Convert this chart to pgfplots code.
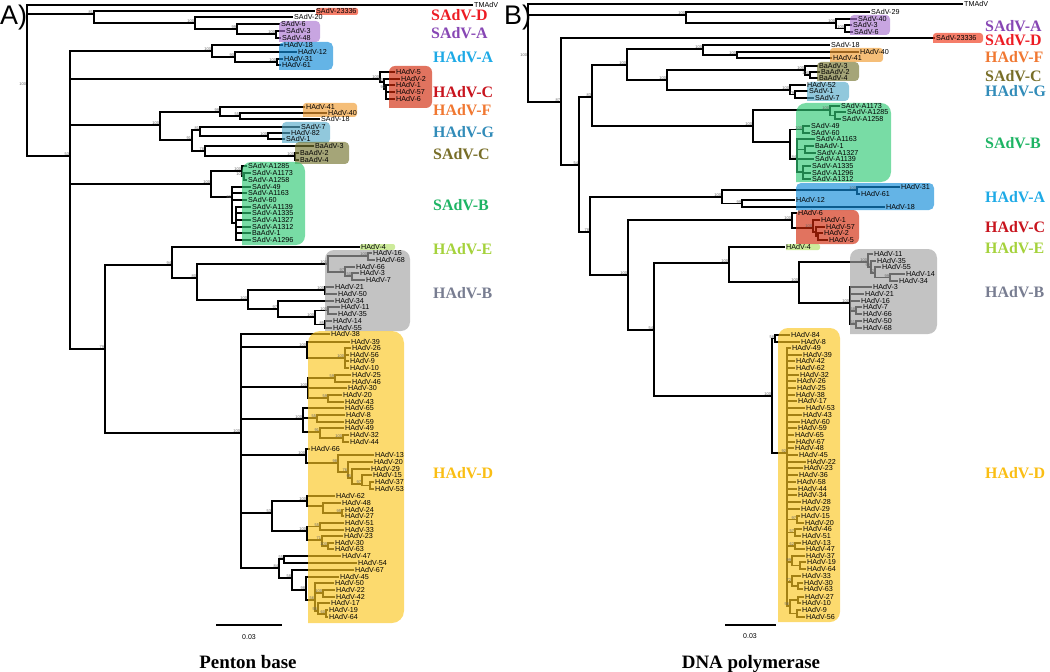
\documentclass[border=0pt]{standalone}
\usepackage{fontspec}
\setmainfont{Liberation Serif}
\newfontfamily\lsans{Liberation Sans}
\usepackage{pgfplots}
\pgfplotsset{compat=1.18}
% box base colours (drawn with fill opacity 0.65 over the tree)
\definecolor{bSD}{RGB}{240,55,24}
\definecolor{bSA}{RGB}{170,117,209}
\definecolor{bHA}{RGB}{17,140,217}
\definecolor{bHC}{RGB}{209,40,9}
\definecolor{bHF}{RGB}{240,155,47}
\definecolor{bHG}{RGB}{86,170,201}
\definecolor{bSC}{RGB}{117,117,47}
\definecolor{bSB}{RGB}{48,201,117}
\definecolor{bHE}{RGB}{178,225,101}
\definecolor{bHB}{RGB}{163,163,163}
\definecolor{bHD}{RGB}{251,198,32}
% group label colours
\definecolor{tSD}{RGB}{237,28,36}
\definecolor{tSA}{RGB}{135,70,180}
\definecolor{tHA}{RGB}{30,170,230}
\definecolor{tHC}{RGB}{200,20,30}
\definecolor{tHF}{RGB}{240,120,50}
\definecolor{tHG}{RGB}{50,140,185}
\definecolor{tSC}{RGB}{120,110,40}
\definecolor{tSB}{RGB}{30,180,100}
\definecolor{tHE}{RGB}{165,210,60}
\definecolor{tHB}{RGB}{120,125,145}
\definecolor{tHD}{RGB}{250,190,20}
\newcommand{\leaffont}{\lsans\fontsize{7.2}{7.2}\selectfont}
\newcommand{\bsfont}{\lsans\fontsize{4}{4}\selectfont}
\newcommand{\grpfont}{\bfseries\fontsize{16}{16}\selectfont}
\pgfplotsset{
  tree/.style={black, line width=1.4bp, mark=none},
  leaves/.style={draw=none, mark=none, nodes near coords, point meta=explicit symbolic,
     every node near coord/.append style={anchor=west, inner sep=1bp, font=\leaffont, text=black}},
  boots/.style={draw=none, mark=none, nodes near coords, point meta=explicit symbolic,
     every node near coord/.append style={anchor=east, inner sep=0.3bp, xshift=-0.5bp, yshift=1.8bp, font=\bsfont, text=black!60}},
  box/.style={draw=none, mark=none, fill opacity=0.65},
}
\begin{document}
\begin{tikzpicture}
\begin{axis}[
  at={(0,0)}, anchor=south west,
  width=1050bp, height=672bp, scale only axis,
  xmin=0, xmax=1050, ymin=0, ymax=672, y dir=reverse,
  hide axis, clip=false, unbounded coords=jump]

% ================= PANEL A : tree =================
\addplot[tree] coordinates {
(473,5)(27,5)(27,156)(70,156) (nan,nan) (27,14)(94,14) (nan,nan)
(315,11)(94,11)(94,23)(195,23) (nan,nan)
(293,17)(195,17)(195,29)(237,29) (nan,nan)
(280,24)(237,24)(237,34)(276,34) (nan,nan)
(285,31)(276,31)(276,38)(281,38) (nan,nan)
(212,51)(70,51)(70,349)(105,349) (nan,nan) (70,79)(380,79) (nan,nan) (70,125)(160,125) (nan,nan) (70,184)(211,184) (nan,nan)
(283,45)(212,45)(212,57)(235,57) (nan,nan)
(297,52)(235,52)(235,62)(277,62) (nan,nan)
(283,59)(277,59)(277,65)(281,65) (nan,nan)
(395,72)(380,72)(380,82)(384,82) (nan,nan)
(400,79)(384,79)(384,89)(386,89) (nan,nan)
(395,85)(386,85)(386,99)(395,99) (nan,nan) (386,92)(395,92) (nan,nan)
(220,112)(160,112)(160,140)(192,140) (nan,nan)
(305,107)(220,107)(220,116)(240,116) (nan,nan)
(327,113)(240,113)(240,119)(320,119) (nan,nan)
(200,130)(192,130)(192,151)(205,151) (nan,nan)
(300,127)(200,127)(200,136)(268,136) (nan,nan)
(290,133)(268,133)(268,139)(285,139) (nan,nan)
(314,146)(205,146)(205,156)(295,156) (nan,nan)
(299,153)(295,153)(295,160)(299,160) (nan,nan)
(242,171)(211,171)(211,197)(232,197) (nan,nan)
(247,166)(242,166)(242,176)(244,176) (nan,nan)
(251,173)(244,173)(244,180)(247,180) (nan,nan)
(251,187)(232,187)(232,223)(236,223) (nan,nan) (232,193)(247,193) (nan,nan) (232,200)(247,200) (nan,nan)
(251,207)(236,207)(236,240)(251,240) (nan,nan) (236,213)(251,213) (nan,nan) (236,220)(251,220) (nan,nan) (236,227)(251,227) (nan,nan) (236,233)(251,233) (nan,nan)
(172,265)(105,265)(105,433)(241,433) (nan,nan)
(360,247)(172,247)(172,278)(197,278) (nan,nan)
(328,264)(197,264)(197,300)(248,300) (nan,nan)
(368,256)(328,256)(328,272)(345,272) (nan,nan)
(372,253)(368,253)(368,260)(375,260) (nan,nan)
(355,267)(345,267)(345,276)(352,276) (nan,nan)
(359,273)(352,273)(352,280)(365,280) (nan,nan)
(325,290)(248,290)(248,309)(278,309) (nan,nan)
(334,287)(325,287)(325,294)(337,294) (nan,nan)
(334,301)(278,301)(278,317)(315,317) (nan,nan)
(328,310.5)(315,310.5)(315,324.5)(325,324.5) (nan,nan)
(340,307)(328,307)(328,314)(337,314) (nan,nan)
(332,321)(325,321)(325,328)(332,328) (nan,nan)
(330,334)(241,334)(241,568)(279,568) (nan,nan) (241,347)(307,347) (nan,nan) (241,387)(308,387) (nan,nan) (241,419)(303,419) (nan,nan) (241,455)(306,455) (nan,nan) (241,513)(272,513) (nan,nan)
(350,342)(307,342)(307,358)(345,358) (nan,nan)
(351,348)(345,348)(345,368)(349,368) (nan,nan) (345,355)(349,355) (nan,nan) (345,361)(349,361) (nan,nan)
(335,378)(308,378)(308,398)(328,398) (nan,nan) (308,388)(347,388) (nan,nan)
(351,375)(335,375)(335,382)(351,382) (nan,nan)
(342,395)(328,395)(328,402)(344,402) (nan,nan)
(344,408)(303,408)(303,432)(320,432) (nan,nan) (303,418)(317,418) (nan,nan)
(345,415)(317,415)(317,422)(344,422) (nan,nan)
(344,428)(320,428)(320,438)(343,438) (nan,nan)
(349,435)(343,435)(343,442)(349,442) (nan,nan)
(310,449)(306,449)(306,463)(338,463) (nan,nan)
(374,455)(338,455)(338,472)(348,472) (nan,nan)
(373,462)(348,462)(348,478)(352,478) (nan,nan)
(370,469)(352,469)(352,484)(362,484) (nan,nan)
(372,475)(362,475)(362,485.5)(370,485.5) (nan,nan)
(374,482)(370,482)(370,489)(374,489) (nan,nan)
(307,501)(272,501)(272,531)(307,531) (nan,nan)
(335,496)(307,496)(307,506)(323,506) (nan,nan)
(341,503)(323,503)(323,513)(342,513) (nan,nan)
(344,509.5)(342,509.5)(342,516)(344,516) (nan,nan)
(320,526.5)(307,526.5)(307,540)(322,540) (nan,nan)
(344,523)(320,523)(320,530)(344,530) (nan,nan)
(343,536)(322,536)(322,546)(328,546) (nan,nan)
(334,543)(328,543)(328,549)(334,549) (nan,nan)
(284,559)(279,559)(279,578)(292,578) (nan,nan)
(341,556)(284,556)(284,563)(357,563) (nan,nan)
(354,570)(292,570)(292,590)(306,590) (nan,nan)
(339,577)(306,577)(306,600)(315,600) (nan,nan)
(334,583)(315,583)(315,611)(318,611) (nan,nan) (315,593)(323,593) (nan,nan)
(335,590)(323,590)(323,597)(335,597) (nan,nan)
(330,603)(318,603)(318,614)(326,614) (nan,nan)
(328,610)(326,610)(326,617)(328,617)
};

\addplot[leaves] table[meta=l] {
x y l
473 5 TMAdV
315 11 SAdV-23336
293 17 SAdV-20
280 24 SAdV-6
285 31 SAdV-3
281 38 SAdV-48
283 45 HAdV-18
297 52 HAdV-12
283 59 HAdV-31
281 65 HAdV-61
395 72 HAdV-5
400 79 HAdV-2
395 85 HAdV-1
395 92 HAdV-57
395 99 HAdV-6
305 107 HAdV-41
327 113 HAdV-40
320 119 SAdV-18
300 127 SAdV-7
290 133 HAdV-82
285 139 SAdV-1
314 146 BaAdV-3
299 153 BaAdV-2
299 160 BaAdV-4
247 166 SAdV-A1285
251 173 SAdV-A1173
247 180 SAdV-A1258
251 187 SAdV-49
247 193 SAdV-A1163
247 200 SAdV-60
251 207 SAdV-A1139
251 213 SAdV-A1335
251 220 SAdV-A1327
251 227 SAdV-A1312
251 233 BaAdV-1
251 240 SAdV-A1296
360 247 HAdV-4
372 253 HAdV-16
375 260 HAdV-68
355 267 HAdV-66
359 273 HAdV-3
365 280 HAdV-7
334 287 HAdV-21
337 294 HAdV-50
334 301 HAdV-34
340 307 HAdV-11
337 314 HAdV-35
332 321 HAdV-14
332 328 HAdV-55
330 334 HAdV-38
350 342 HAdV-39
351 348 HAdV-26
349 355 HAdV-56
349 361 HAdV-9
349 368 HAdV-10
351 375 HAdV-25
351 382 HAdV-46
347 388 HAdV-30
342 395 HAdV-20
344 402 HAdV-43
344 408 HAdV-65
345 415 HAdV-8
344 422 HAdV-59
344 428 HAdV-49
349 435 HAdV-32
349 442 HAdV-44
310 449 HAdV-66
374 455 HAdV-13
373 462 HAdV-20
370 469 HAdV-29
372 475 HAdV-15
374 482 HAdV-37
374 489 HAdV-53
335 496 HAdV-62
341 503 HAdV-48
344 509.5 HAdV-24
344 516 HAdV-27
344 523 HAdV-51
344 530 HAdV-33
343 536 HAdV-23
334 543 HAdV-30
334 549 HAdV-63
341 556 HAdV-47
357 563 HAdV-54
354 570 HAdV-67
339 577 HAdV-45
334 583 HAdV-50
335 590 HAdV-22
335 597 HAdV-42
330 603 HAdV-17
328 610 HAdV-19
328 617 HAdV-64
};

\addplot[boots] table[meta=l] {
x y l
27 86 100
94 14 81
195 23 100
237 29 99
276 34 100
70 156 53
212 51 100
235 57 90
277 62 100
380 79 100
384 82 90
386 89 91
160 125 100
220 112 99
240 116 55
192 140 91
200 130 81
268 136 100
205 151 78
295 156 100
211 184 100
242 171 100
244 176 100
232 199 80
105 349 79
172 265 94
197 278 80
328 264 100
368 256 100
345 272 97
352 276 50
248 300 100
325 290 100
278 309 97
315 317 100
328 310.5 100
325 324.5 85
241 433 100
307 347 100
345 358 100
308 387 100
335 378 59
328 398 59
303 419 100
317 418 55
320 432 91
343 438 100
306 455 100
338 463 98
348 472 76
352 478 95
362 484 97
272 513 53
307 501 100
342 513 95
307 531 100
320 526.5 55
322 540 71
328 546 100
279 568 84
284 559 55
292 578 58
306 590 98
315 600 56
323 593 100
318 611 55
326 614 60
};

% boxes panel A
\addplot[box, fill=bSD, rounded corners=2bp] coordinates {(316,11.5)(316,8)(358,8)(358,15)(316,15)};
\addplot[box, fill=bSA, rounded corners=4bp] coordinates {(279,31)(279,21)(320,21)(320,42)(279,42)};
\addplot[box, fill=bHA, rounded corners=5bp] coordinates {(279,56)(279,42)(333,42)(333,70)(279,70)};
\addplot[box, fill=bHC, rounded corners=6bp] coordinates {(389,87)(389,66)(432,66)(432,108)(389,108)};
\addplot[box, fill=bHF, rounded corners=3bp] coordinates {(303,110)(303,103)(357,103)(357,117)(303,117)};
\addplot[box, fill=bHG, rounded corners=4bp] coordinates {(282,132)(282,122)(330,122)(330,143)(282,143)};
\addplot[box, fill=bSC, rounded corners=4bp] coordinates {(295,153)(295,142)(349,142)(349,164)(295,164)};
\addplot[box, fill=bSB, rounded corners=9bp] coordinates {(242,203)(242,162)(305,162)(305,245)(242,245)};
\addplot[box, fill=bHE, rounded corners=2bp] coordinates {(360,247)(360,244)(395,244)(395,250)(360,250)};
\addplot[box, fill=bHB, rounded corners=9bp] coordinates {(325,290)(325,250)(410,250)(410,331)(325,331)};
\addplot[box, fill=bHD, rounded corners=12bp] coordinates {(308,477)(308,331)(404,331)(404,623)(308,623)};

% scale bar A
\addplot[black, line width=2bp, mark=none] coordinates {(216,625)(282,625)};

% ================= PANEL B : tree =================
\addplot[tree] coordinates {
(963,4)(528,4)(528,102)(561,102) (nan,nan) (528,15)(686,15) (nan,nan)
(870,12)(686,12)(686,23)(836,23) (nan,nan)
(857,19)(836,19)(836,28.5)(845,28.5) (nan,nan)
(852,25)(845,25)(845,32)(853,32) (nan,nan)
(935,38)(561,38)(561,165)(579,165) (nan,nan)
(592,97)(579,97)(579,232)(590,232) (nan,nan)
(627,65)(592,65)(592,126)(753,126) (nan,nan)
(703,49)(627,49)(627,80)(667,80) (nan,nan)
(830,45)(703,45)(703,55)(737,55) (nan,nan)
(859,52)(737,52)(737,58)(832,58) (nan,nan)
(805,70)(667,70)(667,90)(790,90) (nan,nan)
(818,66)(805,66)(805,75)(810,75) (nan,nan)
(820,72)(810,72)(810,78)(818,78) (nan,nan)
(806,85)(790,85)(790,94.5)(795,94.5) (nan,nan)
(808,91)(795,91)(795,98)(814,98) (nan,nan)
(830,110)(753,110)(753,142)(790,142) (nan,nan)
(840,106)(830,106)(830,115.5)(835,115.5) (nan,nan)
(846,112)(835,112)(835,119)(841,119) (nan,nan)
(803,129.5)(790,129.5)(790,159)(797,159) (nan,nan)
(810,126)(803,126)(803,133)(810,133) (nan,nan)
(815,139)(797,139)(797,172)(803,172) (nan,nan) (797,149.5)(805,149.5) (nan,nan) (797,159)(814,159) (nan,nan)
(814,146)(805,146)(805,153)(816,153) (nan,nan)
(811,166)(803,166)(803,179)(811,179) (nan,nan) (803,173)(811,173) (nan,nan)
(722,197)(590,197)(590,275)(628,275) (nan,nan)
(857,190)(722,190)(722,203.5)(742,203.5) (nan,nan)
(900,187)(857,187)(857,194)(860,194) (nan,nan)
(795,200)(742,200)(742,207)(885,207) (nan,nan)
(792,220)(628,220)(628,330)(654,330) (nan,nan)
(797,213)(792,213)(792,228)(813,228) (nan,nan)
(820,220)(813,220)(813,232)(816,232) (nan,nan)
(825,227)(816,227)(816,236.5)(818,236.5) (nan,nan)
(823,233)(818,233)(818,240)(828,240) (nan,nan)
(729,263)(654,263)(654,396)(772,396) (nan,nan)
(785,247)(729,247)(729,282)(799,282) (nan,nan)
(868,262)(799,262)(799,303)(850,303) (nan,nan)
(873,254)(868,254)(868,267)(871,267) (nan,nan)
(876,261)(871,261)(871,273)(875,273) (nan,nan)
(881,267)(875,267)(875,277.5)(890,277.5) (nan,nan)
(905,274)(890,274)(890,281)(898,281) (nan,nan)
(872,287)(850,287)(850,324)(856,324) (nan,nan) (850,294)(864,294) (nan,nan) (850,301)(860,301) (nan,nan) (850,311)(856,311) (nan,nan)
(862,307)(856,307)(856,314)(862,314) (nan,nan)
(862,321)(856,321)(856,328)(862,328) (nan,nan)
(775,338.5)(772,338.5)(772,453)(787,453) (nan,nan)
(790,335)(775,335)(775,342)(800,342) (nan,nan)
(791,348)(787,348)(787,606)(790,606) (nan,nan)
(787,355)(802,355) (nan,nan) (787,361)(795,361) (nan,nan) (787,368)(795,368) (nan,nan)
(787,375)(799,375) (nan,nan) (787,381)(796,381) (nan,nan) (787,388)(796,388) (nan,nan)
(787,395)(795,395) (nan,nan) (787,401)(797,401) (nan,nan) (787,408)(805,408) (nan,nan)
(787,415)(802,415) (nan,nan) (787,422)(800,422) (nan,nan) (787,428)(797,428) (nan,nan)
(787,435)(794,435) (nan,nan) (787,442)(795,442) (nan,nan) (787,448)(794,448) (nan,nan)
(787,455)(798,455) (nan,nan) (787,462)(806,462) (nan,nan) (787,468)(803,468) (nan,nan)
(787,475)(798,475) (nan,nan) (787,482)(796,482) (nan,nan) (787,489)(797,489) (nan,nan)
(787,495)(797,495) (nan,nan) (787,502)(801,502) (nan,nan) (787,509)(800,509) (nan,nan)
(787,519.5)(797,519.5) (nan,nan) (787,532.5)(795,532.5) (nan,nan) (787,546)(795,546) (nan,nan)
(787,562)(792,562) (nan,nan) (787,582)(792,582) (nan,nan)
(800,516)(797,516)(797,523)(804,523) (nan,nan)
(802,529)(795,529)(795,536)(801,536) (nan,nan)
(801,543)(795,543)(795,549)(805,549) (nan,nan)
(805,556)(792,556)(792,565.5)(800,565.5) (nan,nan)
(806,562)(800,562)(800,569)(806,569) (nan,nan)
(801,576)(792,576)(792,586)(798,586) (nan,nan)
(803,583)(798,583)(798,589)(803,589) (nan,nan)
(798,600)(790,600)(790,613.5)(797,613.5) (nan,nan)
(804,597)(798,597)(798,603)(801,603) (nan,nan)
(801,610)(797,610)(797,617)(805,617)
};

\addplot[leaves] table[meta=l] {
x y l
963 4 TMAdV
870 12 SAdV-29
857 19 SAdV-40
852 25 SAdV-3
853 32 SAdV-6
935 38 SAdV-23336
830 45 SAdV-18
859 52 HAdV-40
832 58 HAdV-41
818 66 BaAdV-3
820 72 BaAdV-2
818 78 BaAdV-4
806 85 HAdV-52
808 91 SAdV-1
814 98 SAdV-7
840 106 SAdV-A1173
846 112 SAdV-A1285
841 119 SAdV-A1258
810 126 SAdV-49
810 133 SAdV-60
815 139 SAdV-A1163
814 146 BaAdV-1
816 153 SAdV-A1327
814 159 SAdV-A1139
811 166 SAdV-A1335
811 173 SAdV-A1296
811 179 SAdV-A1312
900 187 HAdV-31
860 194 HAdV-61
795 200 HAdV-12
885 207 HAdV-18
797 213 HAdV-6
820 220 HAdV-1
825 227 HAdV-57
823 233 HAdV-2
828 240 HAdV-5
785 247 HAdV-4
873 254 HAdV-11
876 261 HAdV-35
881 267 HAdV-55
905 274 HAdV-14
898 281 HAdV-34
872 287 HAdV-3
864 294 HAdV-21
860 301 HAdV-16
862 307 HAdV-7
862 314 HAdV-66
862 321 HAdV-50
862 328 HAdV-68
790 335 HAdV-84
800 342 HAdV-8
791 348 HAdV-49
802 355 HAdV-39
795 361 HAdV-42
795 368 HAdV-62
799 375 HAdV-32
796 381 HAdV-26
796 388 HAdV-25
795 395 HAdV-38
797 401 HAdV-17
805 408 HAdV-53
802 415 HAdV-43
800 422 HAdV-60
797 428 HAdV-59
794 435 HAdV-65
795 442 HAdV-67
794 448 HAdV-48
798 455 HAdV-45
806 462 HAdV-22
803 468 HAdV-23
798 475 HAdV-36
796 482 HAdV-58
797 489 HAdV-44
797 495 HAdV-34
801 502 HAdV-28
800 509 HAdV-29
800 516 HAdV-15
804 523 HAdV-20
802 529 HAdV-46
801 536 HAdV-51
801 543 HAdV-13
805 549 HAdV-47
805 556 HAdV-37
806 562 HAdV-19
806 569 HAdV-64
801 576 HAdV-33
803 583 HAdV-30
803 589 HAdV-63
804 597 HAdV-27
801 603 HAdV-10
801 610 HAdV-9
805 617 HAdV-56
};

\addplot[boots] table[meta=l] {
x y l
528 57 100
686 15 100
836 23 100
845 28.5 100
561 102 87
579 165 54
592 97 83
627 65 100
703 49 100
737 55 100
667 80 100
805 70 100
810 75 100
790 90 100
795 94.5 79
753 126 100
830 110 100
803 129.5 100
797 159 84
590 232 78
722 197 100
857 190 100
742 203.5 99
628 275 100
792 220 100
813 228 100
654 330 54
729 263 100
799 282 100
868 262 100
871 267 99
875 273 72
890 277.5 99
850 303 100
856 311 58
856 324 51
772 396 100
775 338.5 58
787 453 92
797 519.5 97
795 532.5 57
795 546 62
792 562 99
792 582 72
790 606 56
};

% boxes panel B
\addplot[box, fill=bSA, rounded corners=4bp] coordinates {(850,25)(850,15)(890,15)(890,35)(850,35)};
\addplot[box, fill=bSD, rounded corners=3bp] coordinates {(933,38)(933,33)(983,33)(983,43)(933,43)};
\addplot[box, fill=bHF, rounded corners=3bp] coordinates {(830,55)(830,48)(883,48)(883,62)(830,62)};
\addplot[box, fill=bSC, rounded corners=4bp] coordinates {(817,71)(817,62)(859,62)(859,81)(817,81)};
\addplot[box, fill=bHG, rounded corners=4bp] coordinates {(807,91)(807,82)(849,82)(849,101)(807,101)};
\addplot[box, fill=bSB, rounded corners=10bp] coordinates {(796,142)(796,103)(891,103)(891,182)(796,182)};
\addplot[box, fill=bHA, rounded corners=5bp] coordinates {(796,196)(796,183)(934,183)(934,210)(796,210)};
\addplot[box, fill=bHC, rounded corners=6bp] coordinates {(796,227)(796,210)(859,210)(859,244)(796,244)};
\addplot[box, fill=bHE, rounded corners=2bp] coordinates {(786,247)(786,244)(820,244)(820,250)(786,250)};
\addplot[box, fill=bHB, rounded corners=9bp] coordinates {(850,291)(850,249)(937,249)(937,334)(850,334)};
\addplot[box, fill=bHD, rounded corners=10bp] coordinates {(778,475)(778,328)(840,328)(840,622)(778,622)};

% scale bar B
\addplot[black, line width=2bp, mark=none] coordinates {(725,625)(776,625)};

% ================= texts =================
\node[anchor=base west, inner sep=0, font=\lsans\fontsize{27}{27}\selectfont] at (axis cs:0,25) {A)};
\node[anchor=base west, inner sep=0, font=\lsans\fontsize{27}{27}\selectfont] at (axis cs:504,25) {B)};

\node[font=\lsans\fontsize{7}{7}\selectfont] at (axis cs:249,637) {0.03};
\node[font=\lsans\fontsize{7}{7}\selectfont] at (axis cs:750,636) {0.03};
\node[anchor=base, inner sep=0, font=\bfseries\fontsize{19}{19}\selectfont] at (axis cs:248,668) {Penton base};
\node[anchor=base, inner sep=0, font=\bfseries\fontsize{19}{19}\selectfont] at (axis cs:751,668) {DNA polymerase};

% group labels panel A
\node[anchor=west, inner sep=0, font=\grpfont, text=tSD] at (axis cs:431,15) {SAdV-D};
\node[anchor=west, inner sep=0, font=\grpfont, text=tSA] at (axis cs:431,33) {SAdV-A};
\node[anchor=west, inner sep=0, font=\grpfont, text=tHA] at (axis cs:433,57) {HAdV-A};
\node[anchor=west, inner sep=0, font=\grpfont, text=tHC] at (axis cs:433,92) {HAdV-C};
\node[anchor=west, inner sep=0, font=\grpfont, text=tHF] at (axis cs:433,110) {HAdV-F};
\node[anchor=west, inner sep=0, font=\grpfont, text=tHG] at (axis cs:433,132) {HAdV-G};
\node[anchor=west, inner sep=0, font=\grpfont, text=tSC] at (axis cs:433,154) {SAdV-C};
\node[anchor=west, inner sep=0, font=\grpfont, text=tSB] at (axis cs:433,205) {SAdV-B};
\node[anchor=west, inner sep=0, font=\grpfont, text=tHE] at (axis cs:433,249) {HAdV-E};
\node[anchor=west, inner sep=0, font=\grpfont, text=tHB] at (axis cs:433,293) {HAdV-B};
\node[anchor=west, inner sep=0, font=\grpfont, text=tHD] at (axis cs:433,473) {HAdV-D};

% group labels panel B
\node[anchor=west, inner sep=0, font=\grpfont, text=tSA] at (axis cs:985,26) {SAdV-A};
\node[anchor=west, inner sep=0, font=\grpfont, text=tSD] at (axis cs:985,40) {SAdV-D};
\node[anchor=west, inner sep=0, font=\grpfont, text=tHF] at (axis cs:985,57) {HAdV-F};
\node[anchor=west, inner sep=0, font=\grpfont, text=tSC] at (axis cs:985,76) {SAdV-C};
\node[anchor=west, inner sep=0, font=\grpfont, text=tHG] at (axis cs:985,91) {HAdV-G};
\node[anchor=west, inner sep=0, font=\grpfont, text=tSB] at (axis cs:985,143) {SAdV-B};
\node[anchor=west, inner sep=0, font=\grpfont, text=tHA] at (axis cs:985,197) {HAdV-A};
\node[anchor=west, inner sep=0, font=\grpfont, text=tHC] at (axis cs:985,227) {HAdV-C};
\node[anchor=west, inner sep=0, font=\grpfont, text=tHE] at (axis cs:985,248) {HAdV-E};
\node[anchor=west, inner sep=0, font=\grpfont, text=tHB] at (axis cs:985,292) {HAdV-B};
\node[anchor=west, inner sep=0, font=\grpfont, text=tHD] at (axis cs:985,473) {HAdV-D};
\end{axis}
\pgfresetboundingbox
\path (0,0) rectangle (1050bp,672bp);
\end{tikzpicture}
\end{document}
